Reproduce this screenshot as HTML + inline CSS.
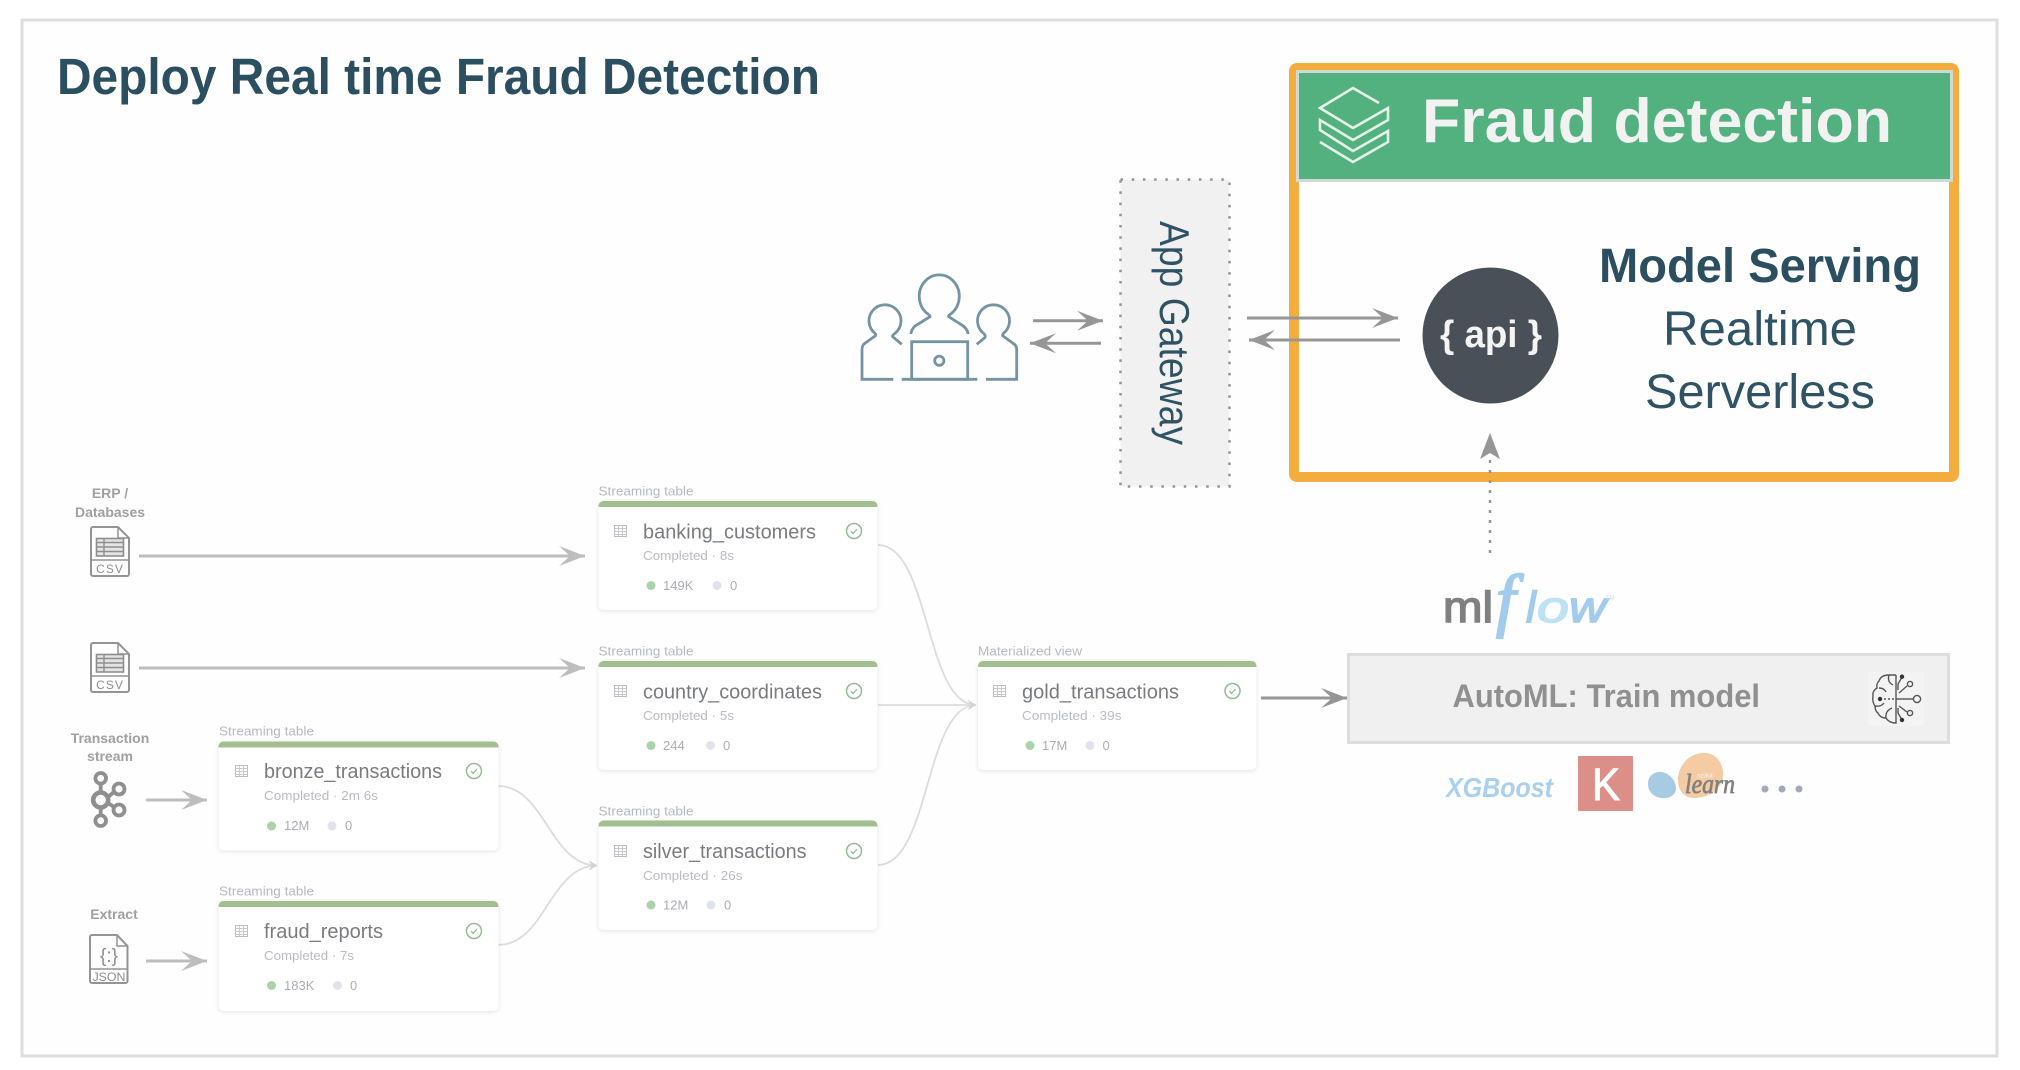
<!DOCTYPE html>
<html><head><meta charset="utf-8"><title>Deploy Real time Fraud Detection</title>
<style>
html,body{margin:0;padding:0;background:#fff;width:2020px;height:1070px;overflow:hidden}
svg{display:block}
text{font-family:"Liberation Sans",sans-serif}
.lb{font-size:13px;fill:#b4bac2}
.tt{font-size:20px;fill:#787c80}
.cp{font-size:13px;fill:#b7bcc4}
.st{font-size:13px;fill:#a9adb3}
.src{font-size:14px;font-weight:bold;fill:#a0a0a0;text-anchor:middle}
.doc{fill:none;stroke:#949494;stroke-width:2}
.ser{font-family:"Liberation Serif",serif;font-style:italic}
</style></head><body>
<svg width="2020" height="1070" viewBox="0 0 2020 1070" xmlns="http://www.w3.org/2000/svg">
<defs>
<marker id="hg" markerUnits="userSpaceOnUse" markerWidth="30" markerHeight="24" refX="26" refY="10" orient="auto"><path d="M0 0L26 10L0 20L11 10z" fill="#969696"/></marker>
<marker id="hl" markerUnits="userSpaceOnUse" markerWidth="30" markerHeight="24" refX="26" refY="10" orient="auto"><path d="M0 0L26 10L0 20L11 10z" fill="#bdbdbd"/></marker>
<marker id="hs" markerUnits="userSpaceOnUse" markerWidth="12" markerHeight="12" refX="8" refY="5" orient="auto"><path d="M0 0L8 5L0 10L2.5 5z" fill="#d2d2d2"/></marker>
<g id="tic"><rect x="0.5" y="0.5" width="12" height="11" fill="none" stroke="#b9bdc2"/><path d="M0.5 3.5H12.5M0.5 6.5H12.5M0.5 9.5H12.5M4.5 .5V11.5M8.5 .5V11.5" stroke="#c6c9cd" fill="none"/></g>
<g id="chk"><circle r="7.5" fill="none" stroke="#93bb92" stroke-width="1.5"/><path d="M-3 0L-1 2.5L3 -2" fill="none" stroke="#93bb92" stroke-width="1.3"/></g>
<g id="csv"><path class="doc" d="M0 2a2 2 0 0 1 2-2H27L38 11V47a2 2 0 0 1-2 2H2a2 2 0 0 1-2-2z"/><path class="doc" d="M27 0V11H38M0 33H38" style="stroke-width:1.5"/><rect x="5.5" y="11.5" width="27" height="17.5" fill="#e4e4e4" stroke="#8e8e8e" stroke-width="1.6"/><path d="M5.5 15.5H32.5M5.5 20H32.5M5.5 24.5H32.5M13 11.5V29" stroke="#8e8e8e" stroke-width="1.4" fill="none"/></g>
</defs>

<rect x="22" y="20" width="1975" height="1036" fill="#fefefe" stroke="#dedede" stroke-width="3"/>

<text x="57" y="94" font-size="51" font-weight="bold" fill="#2b4f60" textLength="763" lengthAdjust="spacingAndGlyphs">Deploy Real time Fraud Detection</text>

<!-- Orange box -->
<rect x="1294" y="68" width="660" height="409" rx="3" fill="#fefefe" stroke="#f3ad3d" stroke-width="10"/>
<rect x="1297.5" y="71.5" width="654" height="109" fill="#52b17f" stroke="#cfdad4" stroke-width="3"/>
<path d="M1379 103L1353 88L1320 108L1353 128L1388 108V120L1353 140L1320 120V130L1353 151L1388 131V142L1353 162L1320 142" fill="none" stroke="#e6f3ea" stroke-width="2.600"/>
<text x="1422" y="142" font-size="62" font-weight="bold" fill="#f2f2f2" textLength="470" lengthAdjust="spacingAndGlyphs">Fraud detection</text>
<circle cx="1490.500" cy="335.500" r="68" fill="#4a5058"/>
<text x="1440" y="347" font-size="38" font-weight="bold" fill="#f4f4f4" textLength="102" lengthAdjust="spacingAndGlyphs">{ api }</text>
<text x="1599" y="282" font-size="48" font-weight="bold" fill="#2b4f60" textLength="322" lengthAdjust="spacingAndGlyphs">Model Serving</text>
<text x="1663" y="345" font-size="48" fill="#2f5364" textLength="194" lengthAdjust="spacingAndGlyphs">Realtime</text>
<text x="1645" y="408" font-size="48" fill="#2f5364" textLength="230" lengthAdjust="spacingAndGlyphs">Serverless</text>

<!-- App gateway -->
<rect x="1120.500" y="179.500" width="109" height="307" fill="#f1f1f1" stroke="#929292" stroke-width="2.500" stroke-dasharray="2.500 8.700"/>
<text transform="translate(1160,221) rotate(90)" font-size="42" fill="#2f5364" textLength="224" lengthAdjust="spacingAndGlyphs">App Gateway</text>

<!-- Users -->
<g fill="none" stroke="#7593a1" stroke-width="2.800">
<path d="M928.500 314.500A20 21.500 0 1 1 950 314.500Q948 316 948.700 316.700L963.300 326Q968 330 968 334"/>
<path d="M928.500 314.500Q930.500 316 930 316.700L915 326Q911 330 911 334"/>
<rect x="911.700" y="341.700" width="56" height="37.600"/>
<path d="M901.700 379.300H977.300"/>
<circle cx="939.300" cy="360.700" r="4.600"/>
<path d="M875 333.300A16 16 0 1 1 895 333.300Q892 335.500 892.700 336.700L901.700 344.300"/>
<path d="M875 333.300Q877 335.500 874 336.700L864 344Q862 346 862 350V379.300H893.300"/>
<path d="M983.500 333.300A16 16 0 1 1 1003.500 333.300Q1001.500 335.500 1004 336.700L1014 344Q1016.700 346 1016.700 350V379.300H986"/>
<path d="M983.500 333.300Q986 335.500 985 337.500L976.700 344.300"/>
</g>

<!-- Top arrows -->
<g stroke="#969696" stroke-width="3" fill="none">
<path d="M1033 320.700H1103" marker-end="url(#hg)"/>
<path d="M1101 343.300H1030" marker-end="url(#hg)"/>
<path d="M1247 318H1398" marker-end="url(#hg)"/>
<path d="M1400 340H1249" marker-end="url(#hg)"/>
<path d="M1261 698H1347" marker-end="url(#hg)"/>
<path d="M1490 553V459" stroke-width="2.500" stroke-dasharray="3 7" marker-end="none"/>
</g>
<path d="M1490 433L1500 459L1490 453L1480 459z" fill="#969696"/>

<!-- Source arrows -->
<g stroke="#bdbdbd" stroke-width="3" fill="none">
<path d="M139 556H585" marker-end="url(#hl)"/>
<path d="M139 668H585" marker-end="url(#hl)"/>
<path d="M146 800H207" marker-end="url(#hl)"/>
<path d="M146 961H207" marker-end="url(#hl)"/>
</g>

<!-- Source labels/icons -->
<text class="src" x="110" y="498">ERP /</text>
<text class="src" x="110" y="517">Databases</text>
<use href="#csv" x="91" y="527"/>
<text x="110" y="573" font-size="12" fill="#8e8e8e" text-anchor="middle" letter-spacing="1">CSV</text>
<use href="#csv" x="91" y="643"/>
<text x="110" y="689" font-size="12" fill="#8e8e8e" text-anchor="middle" letter-spacing="1">CSV</text>
<text class="src" x="110" y="743">Transaction</text>
<text class="src" x="110" y="761">stream</text>
<g fill="none" stroke="#8f8f8f" stroke-width="3.800">
<circle cx="100.700" cy="778.300" r="5.300"/><circle cx="100.700" cy="800" r="7.500" stroke-width="4.600"/><circle cx="100.700" cy="820.700" r="5.300"/>
<circle cx="119" cy="789" r="5.500"/><circle cx="119" cy="810" r="5.500"/>
<path d="M100.700 784V792M100.700 808V815M108 797L114 792M108 803L114 807"/>
</g>
<text class="src" x="114" y="919">Extract</text>
<path class="doc" d="M90 937a2 2 0 0 1 2-2H117L127.500 946V981a2 2 0 0 1-2 2H92a2 2 0 0 1-2-2z"/>
<path class="doc" d="M117 935V946H127.500M90 969H127.500" style="stroke-width:1.500"/>
<text x="109" y="962" font-size="19" fill="#8e8e8e" text-anchor="middle">{:}</text>
<text x="109" y="981" font-size="12" fill="#8e8e8e" text-anchor="middle" textLength="33" lengthAdjust="spacingAndGlyphs">JSON</text>

<!-- Connectors -->
<g fill="none" stroke="#dcdcdc" stroke-width="1.800">
<path d="M498 786C545 786 550 865.500 597 865.500" marker-end="url(#hs)"/>
<path d="M498 945C545 945 550 865.500 597 865.500" marker-end="url(#hs)"/>
<path d="M878 545C930 545 925 705 976 705" marker-end="url(#hs)"/>
<path d="M878 705H976" marker-end="url(#hs)"/>
<path d="M878 865C930 865 925 705 976 705" marker-end="url(#hs)"/>
</g>

<!-- Cards -->
<g style="filter:drop-shadow(0 1px 2px rgba(80,90,110,.16))" fill="#fff">
<rect x="218.500" y="741.500" width="280" height="109" rx="5"/>
<rect x="218.500" y="901" width="280" height="110" rx="5"/>
<rect x="598.500" y="501" width="279" height="109" rx="5"/>
<rect x="598.500" y="661" width="279" height="109" rx="5"/>
<rect x="598.500" y="820.500" width="279" height="109.500" rx="5"/>
<rect x="978" y="661" width="278.500" height="109" rx="5"/>
</g>
<g fill="#a3bf90">
<path d="M218.500 747.500v-1a5 5 0 0 1 5-5h270a5 5 0 0 1 5 5v1z"/>
<path d="M218.500 907v-1a5 5 0 0 1 5-5h270a5 5 0 0 1 5 5v1z"/>
<path d="M598.500 507v-1a5 5 0 0 1 5-5h269a5 5 0 0 1 5 5v1z"/>
<path d="M598.500 667v-1a5 5 0 0 1 5-5h269a5 5 0 0 1 5 5v1z"/>
<path d="M598.500 826.500v-1a5 5 0 0 1 5-5h269a5 5 0 0 1 5 5v1z"/>
<path d="M978 667v-1a5 5 0 0 1 5-5h268.500a5 5 0 0 1 5 5v1z"/>
</g>

<!-- bronze -->
<text class="lb" x="219" y="735.500" textLength="95" lengthAdjust="spacingAndGlyphs">Streaming table</text>
<use href="#tic" x="235" y="765"/><use href="#chk" x="474" y="771"/>
<text class="tt" x="264" y="778" textLength="178" lengthAdjust="spacingAndGlyphs">bronze_transactions</text>
<text class="cp" x="264" y="800" textLength="114" lengthAdjust="spacingAndGlyphs">Completed · 2m 6s</text>
<circle cx="271.500" cy="826" r="4.500" fill="#aad3a8"/><text class="st" x="284" y="830">12M</text>
<circle cx="332" cy="826" r="4.500" fill="#dfe3ea"/><text class="st" x="345" y="830">0</text>

<!-- fraud -->
<text class="lb" x="219" y="895.500" textLength="95" lengthAdjust="spacingAndGlyphs">Streaming table</text>
<use href="#tic" x="235" y="925"/><use href="#chk" x="474" y="931"/>
<text class="tt" x="264" y="938" textLength="119" lengthAdjust="spacingAndGlyphs">fraud_reports</text>
<text class="cp" x="264" y="960" textLength="90" lengthAdjust="spacingAndGlyphs">Completed · 7s</text>
<circle cx="271.500" cy="985.500" r="4.500" fill="#aad3a8"/><text class="st" x="284" y="990">183K</text>
<circle cx="337.500" cy="985.500" r="4.500" fill="#dfe3ea"/><text class="st" x="350" y="990">0</text>

<!-- banking -->
<text class="lb" x="598.500" y="495.500" textLength="95" lengthAdjust="spacingAndGlyphs">Streaming table</text>
<use href="#tic" x="614" y="525"/><use href="#chk" x="854" y="531"/>
<text class="tt" x="643" y="538.500" textLength="173" lengthAdjust="spacingAndGlyphs">banking_customers</text>
<text class="cp" x="643" y="560" textLength="91" lengthAdjust="spacingAndGlyphs">Completed · 8s</text>
<circle cx="651" cy="585.500" r="4.500" fill="#aad3a8"/><text class="st" x="663" y="590">149K</text>
<circle cx="717" cy="585.500" r="4.500" fill="#dfe3ea"/><text class="st" x="730" y="590">0</text>

<!-- country -->
<text class="lb" x="598.500" y="655.500" textLength="95" lengthAdjust="spacingAndGlyphs">Streaming table</text>
<use href="#tic" x="614" y="685"/><use href="#chk" x="854" y="691"/>
<text class="tt" x="643" y="698.500" textLength="179" lengthAdjust="spacingAndGlyphs">country_coordinates</text>
<text class="cp" x="643" y="720" textLength="91" lengthAdjust="spacingAndGlyphs">Completed · 5s</text>
<circle cx="651" cy="745.500" r="4.500" fill="#aad3a8"/><text class="st" x="663" y="750">244</text>
<circle cx="710.500" cy="745.500" r="4.500" fill="#dfe3ea"/><text class="st" x="723" y="750">0</text>

<!-- silver -->
<text class="lb" x="598.500" y="815.500" textLength="95" lengthAdjust="spacingAndGlyphs">Streaming table</text>
<use href="#tic" x="614" y="845"/><use href="#chk" x="854" y="851"/>
<text class="tt" x="643" y="858" textLength="163.500" lengthAdjust="spacingAndGlyphs">silver_transactions</text>
<text class="cp" x="643" y="880" textLength="99.500" lengthAdjust="spacingAndGlyphs">Completed · 26s</text>
<circle cx="651" cy="905" r="4.500" fill="#aad3a8"/><text class="st" x="663" y="909.500">12M</text>
<circle cx="711" cy="905" r="4.500" fill="#dfe3ea"/><text class="st" x="724" y="909.500">0</text>

<!-- gold -->
<text class="lb" x="978" y="655.500" textLength="104" lengthAdjust="spacingAndGlyphs">Materialized view</text>
<use href="#tic" x="993" y="685"/><use href="#chk" x="1232.500" y="691"/>
<text class="tt" x="1022" y="698.500" textLength="157" lengthAdjust="spacingAndGlyphs">gold_transactions</text>
<text class="cp" x="1022" y="720" textLength="99.500" lengthAdjust="spacingAndGlyphs">Completed · 39s</text>
<circle cx="1030" cy="745.500" r="4.500" fill="#aad3a8"/><text class="st" x="1042" y="750">17M</text>
<circle cx="1090" cy="745.500" r="4.500" fill="#dfe3ea"/><text class="st" x="1102.500" y="750">0</text>

<!-- mlflow -->
<text x="1443" y="622" font-size="44" fill="#808080" stroke="#808080" stroke-width="1.500" textLength="50" lengthAdjust="spacingAndGlyphs">ml</text>
<text class="ser" x="1496" y="623" font-size="70" fill="#a3cbee" stroke="#a3cbee" stroke-width="2">f</text>
<text x="1526" y="622" font-size="44" font-style="italic" fill="#a3cbee" stroke="#a3cbee" stroke-width="1.500">l</text>
<text x="1537" y="622" font-size="44" font-style="italic" fill="#bde2f3" stroke="#bde2f3" stroke-width="1.500" textLength="32" lengthAdjust="spacingAndGlyphs">o</text>
<text x="1569" y="622" font-size="44" font-style="italic" fill="#a3cbee" stroke="#a3cbee" stroke-width="1.500" textLength="37" lengthAdjust="spacingAndGlyphs">w</text>
<text x="1606" y="600" font-size="6" fill="#c8dcee">TM</text>

<!-- AutoML -->
<rect x="1348.500" y="654.500" width="600" height="88" fill="#f0f0f0" stroke="#dddddd" stroke-width="3"/>
<rect x="1868" y="672" width="56" height="54" fill="#f3f3f3"/>
<g fill="none" stroke="#555" stroke-width="1.400">
<path d="M1896 675H1889Q1881 675 1879 681Q1876 684 1877 688Q1872 691 1873 696Q1872 702 1875 706Q1875 711 1878 713Q1880 718 1886 718Q1889 723 1896 723V675"/>
<path d="M1889 675Q1887 682 1893 685M1879 688Q1884 688 1886 692M1875 706Q1881 707 1884 703M1886 718Q1885 711 1892 708"/>
<path d="M1902 677L1898 684V690M1899 693L1907 686M1902 720L1898 713V708M1899 706L1907 712"/>
<path d="M1880 699H1898" stroke-dasharray="2 2"/>
<path d="M1898 699H1913"/>
<circle cx="1917" cy="699" r="3.600"/><circle cx="1910" cy="684" r="2.600"/><circle cx="1910" cy="713" r="2.600"/>
</g>
<circle cx="1880" cy="699" r="2.200" fill="#333"/><circle cx="1902" cy="676.700" r="2.200" fill="#333"/><circle cx="1902" cy="720" r="2.200" fill="#333"/>
<text x="1452.500" y="707" font-size="32" font-weight="bold" fill="#909090" textLength="307.500" lengthAdjust="spacingAndGlyphs">AutoML: Train model</text>

<!-- logos -->
<text x="1446" y="797" font-size="28" font-weight="bold" font-style="italic" fill="#a9d0ee" textLength="107" lengthAdjust="spacingAndGlyphs">XGBoost</text>
<rect x="1578" y="756" width="55" height="55" fill="#dc8f88"/>
<text x="1592" y="800" font-size="45" fill="#fff" stroke="#fff" stroke-width="1" textLength="28" lengthAdjust="spacingAndGlyphs">K</text>
<path d="M1658 772C1668 771 1676 780 1676 788C1676 796 1668 799 1661 798C1653 797 1648 791 1648 784C1648 777 1652 773 1658 772z" fill="#a8cbe4"/>
<path d="M1706 753C1718 754 1724 766 1723 777C1721 790 1708 798 1694 798C1683 798 1677 789 1678 777C1680 763 1691 752 1706 753z" fill="#f4cba3"/>
<text x="1705" y="778" font-size="7" fill="#f8f0e8" text-anchor="middle">scikit</text>
<text class="ser" x="1685" y="793" font-size="27" fill="#808080" stroke="#808080" stroke-width=".7" textLength="50" lengthAdjust="spacingAndGlyphs">learn</text>
<g fill="#a0a9bc"><circle cx="1765" cy="789" r="3.500"/><circle cx="1782" cy="789" r="3.500"/><circle cx="1799" cy="789" r="3.500"/></g>
</svg>
</body></html>
